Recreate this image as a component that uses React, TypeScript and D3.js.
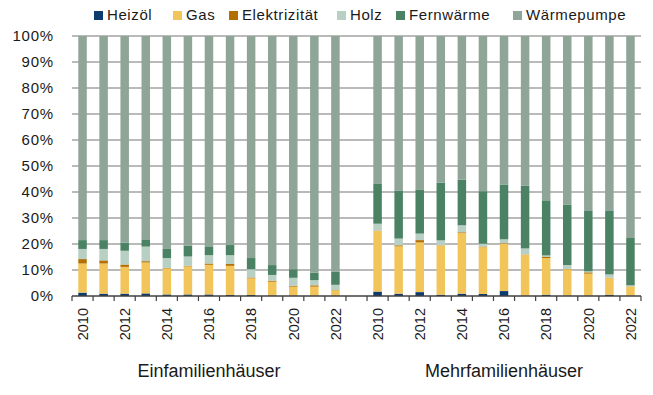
import * as d3 from "d3";

const years = ["2010", "2011", "2012", "2013", "2014", "2015", "2016", "2017", "2018", "2019", "2020", "2021", "2022"];
const groups = ["Einfamilienhäuser", "Mehrfamilienhäuser"];
const seriesNames = ["Heizöl", "Gas", "Elektrizität", "Holz", "Fernwärme", "Wärmepumpe"];
const colors = ["#0d3b6e", "#f2c55a", "#b36f00", "#b8d0c3", "#4b8264", "#8ea598"];
const yTicks = [0, 10, 20, 30, 40, 50, 60, 70, 80, 90, 100];

// Einfamilienhäuser, Anteile in %
const efhHeizoel = [1.3, 0.9, 0.9, 1.0, 0.6, 0.6, 0.6, 0.4, 0.4, 0.2, 0.1, 0.1, 0.1];
const efhGas = [11.2, 11.6, 10.3, 11.9, 10.0, 10.8, 11.4, 11.2, 6.4, 5.3, 3.5, 3.5, 2.1];
const efhElektro = [1.7, 1.2, 0.9, 0.5, 0.2, 0.2, 0.5, 0.7, 0.3, 0.4, 0.3, 0.5, 0.1];
const efhHolz = [3.9, 4.4, 5.3, 5.6, 3.8, 3.6, 3.2, 3.4, 3.2, 2.2, 3.1, 2.0, 2.0];
const efhFern = [3.4, 3.4, 3.1, 2.8, 3.5, 4.2, 3.4, 3.9, 4.3, 3.8, 3.3, 2.9, 5.0];
const efhWp = [78.5, 78.5, 79.5, 78.2, 81.9, 80.6, 80.9, 80.4, 85.4, 88.1, 89.7, 91.0, 90.7];

// Mehrfamilienhäuser, Anteile in %
const mfhHeizoel = [1.7, 0.9, 1.5, 0.5, 0.9, 0.8, 1.9, 0.1, 0.5, 0.1, 0.1, 0.5, 0.1];
const mfhGas = [23.3, 18.2, 19.1, 18.9, 23.3, 18.0, 18.2, 15.8, 14.1, 10.2, 8.5, 6.4, 3.5];
const mfhElektro = [0.1, 0.4, 0.9, 0.1, 0.3, 0.2, 0.2, 0.1, 0.4, 0.1, 0.5, 0.1, 0.1];
const mfhHolz = [2.7, 2.6, 2.5, 1.9, 2.7, 1.1, 1.5, 2.3, 0.6, 1.5, 0.4, 1.3, 0.4];
const mfhFern = [15.3, 18.5, 17.0, 22.2, 17.5, 20.2, 21.1, 24.1, 21.2, 23.3, 23.2, 24.4, 18.2];
const mfhWp = [56.9, 59.4, 59.0, 56.4, 55.3, 59.7, 57.1, 57.6, 63.2, 64.8, 67.3, 67.3, 77.7];

const W = 653, H = 395;
const margin = { top: 36, right: 12, bottom: 99, left: 72 };
const font = "'Liberation Sans', Arial, sans-serif";
const narrow = "'Liberation Sans Narrow', 'Arial Narrow', sans-serif";

const efh = [efhHeizoel, efhGas, efhElektro, efhHolz, efhFern, efhWp];
const mfh = [mfhHeizoel, mfhGas, mfhElektro, mfhHolz, mfhFern, mfhWp];

const makeRows = (arrs, prefix) =>
  years.map((yr, i) => {
    const row = { key: prefix + yr, year: yr };
    seriesNames.forEach((s, j) => (row[s] = arrs[j][i]));
    return row;
  });

const rows = [...makeRows(efh, "E"), ...makeRows(mfh, "M")];
const categories = [...years.map(y => "E" + y), "gap", ...years.map(y => "M" + y)];

export default function App() {
  const x = d3.scaleBand().domain(categories).range([margin.left, W - margin.right]).padding(0);
  const step = x.step();
  const barW = 8.5;
  const y = d3.scaleLinear().domain([0, 100]).range([H - margin.bottom, margin.top]);
  const stacked = d3.stack().keys(seriesNames)(rows);
  const base = H - margin.bottom;

  const legendX = [94, 173, 229, 337, 396, 513];

  return (
    <svg width={W} height={H} style={{ position: "absolute", left: 0, top: 0, background: "#fff" }} fontFamily={font}>
      {/* legend */}
      {seriesNames.map((s, i) => (
        <g key={s} transform={`translate(${legendX[i]},0)`}>
          <rect x={0} y={11} width={9} height={9} fill={colors[i]} />
          <text x={13} y={20} fontSize={15} letterSpacing={0.6} fill="#1a1a1a">{s}</text>
        </g>
      ))}

      {/* gridlines + y labels */}
      {yTicks.map(t => (
        <g key={t}>
          {t > 0 && (
            <line x1={margin.left} x2={W - margin.right} y1={y(t)} y2={y(t)} stroke="#a3a3a3" strokeWidth={1.5} />
          )}
          <text x={54} y={y(t)} dy="0.36em" textAnchor="end" fontSize={15} letterSpacing={0.8} fill="#1a1a1a">{t}%</text>
        </g>
      ))}

      {/* bars */}
      {stacked.map((layer, i) => (
        <g key={layer.key} fill={colors[i]}>
          {layer.map(d => (
            <rect key={d.data.key} x={x(d.data.key) + (step - barW) / 2} width={barW}
              y={y(d[1])} height={Math.max(0, y(d[0]) - y(d[1]))} />
          ))}
        </g>
      ))}

      {/* x axis */}
      <line x1={margin.left} x2={W - margin.right} y1={base} y2={base} stroke="#404040" strokeWidth={1.5} />
      {d3.range(categories.length + 1).map(i => (
        <line key={i} x1={margin.left + i * step} x2={margin.left + i * step} y1={base} y2={base + 5} stroke="#404040" strokeWidth={1.2} />
      ))}
      {rows.filter(r => +r.year % 2 === 0).map(r => {
        const cx = x(r.key) + step / 2;
        return (
          <text key={r.key} transform={`translate(${cx},${base + 12}) rotate(-90)`} textAnchor="end" dy="0.36em"
            fontFamily={narrow} fontSize={14.5} fill="#1a1a1a">{r.year}</text>
        );
      })}

      {/* group labels */}
      {groups.map((g, gi) => {
        const first = x((gi === 0 ? "E" : "M") + years[0]);
        const last = x((gi === 0 ? "E" : "M") + years[years.length - 1]) + step;
        return (
          <text key={g} x={(first + last) / 2} y={377} textAnchor="middle" fontFamily={narrow} fontSize={18} fill="#1a1a1a">{g}</text>
        );
      })}
    </svg>
  );
}
